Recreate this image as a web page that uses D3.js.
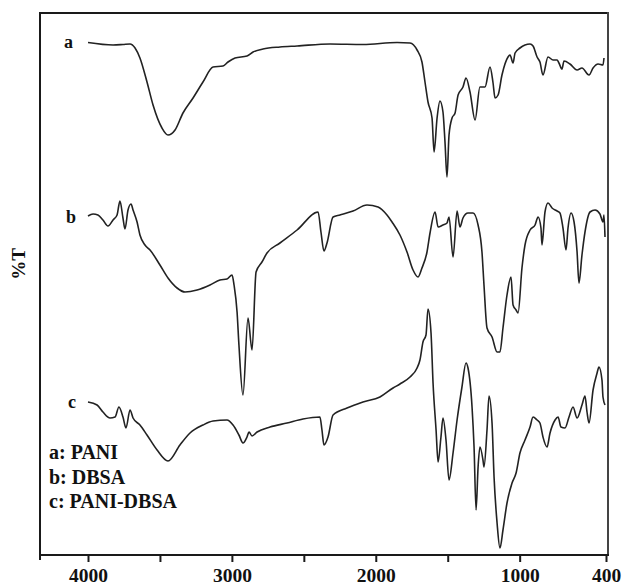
<!DOCTYPE html>
<html>
<head>
<meta charset="utf-8">
<script src="https://cdn.jsdelivr.net/npm/d3@7"></script>
<style>
  html, body { margin: 0; padding: 0; background: #fff; }
  svg { display: block; }
  text { font-family: "Liberation Serif", "Times New Roman", serif; font-weight: bold; fill: #111; }
</style>
</head>
<body>
<svg id="chart" width="626" height="588"></svg>
<script>
// FTIR spectra (wavenumber in cm-1, transmittance in arbitrary offset units)
const wnA = [4000,3826,3757,3708,3673,3639,3590,3548,3486,3444,3395,3340,3270,3201,3131,3062,3027,2978,2895,2853,2784,2666,2547,2318,2089,1852,1762,1713,1679,1658,1637,1609,1595,1574,1554,1533,1519,1505,1491,1470,1449,1428,1394,1373,1345,1310,1276,1241,1206,1185,1171,1150,1123,1081,1067,1046,1032,998,928,907,879,859,838,803,768,740,727,706,692,650,601,567,518,490,455,421,414];
const tA  = [102.5,102.0,102.1,102.2,101.4,99.4,94.6,90.0,85.4,84.0,85.0,88.4,91.4,94.6,97.6,97.8,98.6,99.4,99.8,100.6,101.2,101.6,101.8,102.2,102.1,102.5,102.4,101.0,98.6,94.6,90.6,87.4,80.6,87.4,90.8,88.6,82.6,75.6,84.0,87.4,88.4,92.0,93.6,95.4,92.6,87.0,93.6,93.6,97.6,94.4,91.4,92.0,96.0,99.6,100.0,98.4,100.4,101.4,102.2,101.8,99.6,98.6,96.0,99.6,99.0,99.0,98.4,97.2,98.8,98.2,97.0,97.4,96.0,97.4,98.2,98.0,99.4];

const wnB = [4000,3965,3931,3896,3861,3826,3798,3778,3757,3743,3722,3701,3687,3659,3639,3604,3569,3500,3444,3381,3326,3242,3152,3083,3034,2999,2985,2964,2951,2923,2888,2860,2832,2791,2756,2666,2547,2401,2381,2360,2339,2297,2249,2158,2061,1984,1922,1887,1832,1783,1741,1706,1679,1644,1623,1588,1567,1533,1505,1491,1463,1435,1415,1394,1359,1324,1289,1262,1248,1227,1192,1157,1137,1116,1088,1060,1046,1025,1011,984,963,928,893,872,852,845,824,803,775,740,720,699,678,664,643,622,601,588,567,546,511,476,442,421,414,407];
const tB  = [67.8,68.2,68.0,67.0,65.8,67.0,68.0,70.8,67.4,65.2,69.0,70.2,69.0,66.6,64.0,62.0,61.0,58.0,55.4,53.4,52.6,53.0,54.0,55.0,55.2,56.0,54.0,48.6,42.0,32.0,47.4,41.0,56.6,58.6,60.4,62.4,65.0,68.6,64.6,60.8,62.4,67.6,68.0,68.8,70.0,69.6,68.0,66.6,64.0,60.6,57.0,55.6,57.4,60.6,64.4,68.6,65.6,66.0,66.4,67.6,59.6,68.8,65.6,67.4,68.4,68.4,66.0,60.6,54.0,45.4,43.6,40.6,40.6,45.4,52.0,55.6,50.0,49.0,48.4,57.4,62.0,65.0,66.0,67.6,65.4,62.0,68.6,70.4,69.4,68.8,68.4,65.4,61.0,65.4,68.4,66.6,60.6,54.4,60.0,64.6,68.6,69.0,68.2,66.6,68.0,63.6];

const wnC = [4000,3937,3896,3847,3812,3785,3757,3736,3708,3687,3639,3590,3520,3444,3361,3291,3201,3131,3034,2992,2951,2923,2895,2881,2860,2825,2735,2617,2506,2388,2374,2360,2332,2297,2200,2089,1971,1880,1832,1762,1713,1693,1672,1651,1637,1616,1602,1581,1567,1547,1533,1512,1491,1463,1435,1401,1373,1359,1331,1317,1303,1289,1276,1255,1248,1227,1213,1192,1178,1157,1137,1116,1088,1053,1025,998,963,928,907,879,859,838,810,789,754,733,713,685,657,629,601,567,546,532,518,490,462,449,428,421,407];
const tC  = [30.6,30.0,28.6,27.4,27.6,29.6,27.6,25.4,29.0,27.4,26.0,24.0,21.0,18.8,22.0,24.4,26.0,26.8,27.0,26.0,24.0,22.4,23.6,24.6,23.8,24.6,25.6,26.4,27.2,27.6,25.0,22.0,23.6,28.0,29.4,30.6,31.6,33.4,34.2,35.6,37.4,39.0,42.6,44.0,49.2,44.4,34.4,25.0,18.6,23.6,27.4,23.0,15.0,20.4,27.0,33.6,38.4,37.4,29.6,21.6,9.0,17.6,21.6,19.0,17.6,25.0,31.8,26.4,15.6,6.4,1.4,5.0,10.4,14.4,16.4,20.4,23.0,25.6,27.6,27.0,26.4,23.6,21.6,24.4,27.0,27.6,25.6,25.4,27.6,29.6,27.4,30.0,31.8,28.6,26.4,33.0,36.4,37.6,35.0,31.6,30.0];

// Curve tags, legend entries and axis ticks
const curveTags = ["a", "b", "c"];
const legendItems = ["a: PANI", "b: DBSA", "c: PANI-DBSA"];
const tickValues = [4000, 3500, 3000, 2500, 2000, 1500, 1000, 400];
const labelledTicks = [4000, 3000, 2000, 1000, 400];
const yTitle = "%T";

const svg = d3.select("#chart");
const box = { left: 40, right: 608, top: 13, bottom: 555 };

const x = d3.scaleLinear().domain([4000, 400]).range([88, 606]);
const y = d3.scaleLinear().domain([0, 108.4]).range([box.bottom, box.top]);

// Frame around the plot
svg.append("line").attr("x1", box.left).attr("x2", box.right).attr("y1", box.top).attr("y2", box.top)
  .attr("stroke", "#1a1a1a").attr("stroke-width", 2);
svg.append("line").attr("x1", box.left).attr("x2", box.left).attr("y1", box.top - 1).attr("y2", box.bottom + 5)
  .attr("stroke", "#1a1a1a").attr("stroke-width", 2);
svg.append("line").attr("x1", box.right).attr("x2", box.right).attr("y1", box.top - 1).attr("y2", box.bottom)
  .attr("stroke", "#444").attr("stroke-width", 2);

// Bottom wavenumber axis
const xAxis = d3.axisBottom(x)
  .tickValues(tickValues)
  .tickSize(7)
  .tickSizeOuter(0)
  .tickFormat(d => labelledTicks.includes(d) ? String(d) : "");
const gx = svg.append("g").attr("transform", `translate(0,${box.bottom})`).call(xAxis);
gx.select(".domain").remove();
gx.selectAll(".tick line").attr("stroke", "#1a1a1a").attr("stroke-width", 2);
gx.selectAll(".tick text")
  .attr("y", 27)
  .attr("dy", "0")
  .style("font-family", "'Liberation Serif', 'Times New Roman', serif")
  .style("font-weight", "bold")
  .style("font-size", "19.5px")
  .attr("fill", "#111");
svg.append("line").attr("x1", box.left - 1).attr("x2", box.right + 1).attr("y1", box.bottom).attr("y2", box.bottom)
  .attr("stroke", "#1a1a1a").attr("stroke-width", 2);

// Spectra
const line = d3.line().x(d => x(d[0])).y(d => y(d[1])).curve(d3.curveMonotoneX);
const series = [d3.zip(wnA, tA), d3.zip(wnB, tB), d3.zip(wnC, tC)];
svg.append("g").selectAll("path").data(series).join("path")
  .attr("d", line)
  .attr("fill", "none")
  .attr("stroke", "#222")
  .attr("stroke-width", 1.6)
  .attr("stroke-linejoin", "round");

// Curve tags beside each spectrum start
const tagPos = [[64, 48], [66, 223], [68, 408]];
svg.append("g").selectAll("text").data(curveTags).join("text")
  .attr("x", (d, i) => tagPos[i][0])
  .attr("y", (d, i) => tagPos[i][1])
  .style("font-size", "18px")
  .text(d => d);

// Legend
svg.append("g").selectAll("text").data(legendItems).join("text")
  .attr("x", 49)
  .attr("y", (d, i) => 459 + i * 24.5)
  .style("font-size", "20px")
  .text(d => d);

// Y title
svg.append("text")
  .attr("transform", "translate(25,264) rotate(-90)")
  .attr("text-anchor", "middle")
  .style("font-size", "19px")
  .text(yTitle);
</script>
</body>
</html>
